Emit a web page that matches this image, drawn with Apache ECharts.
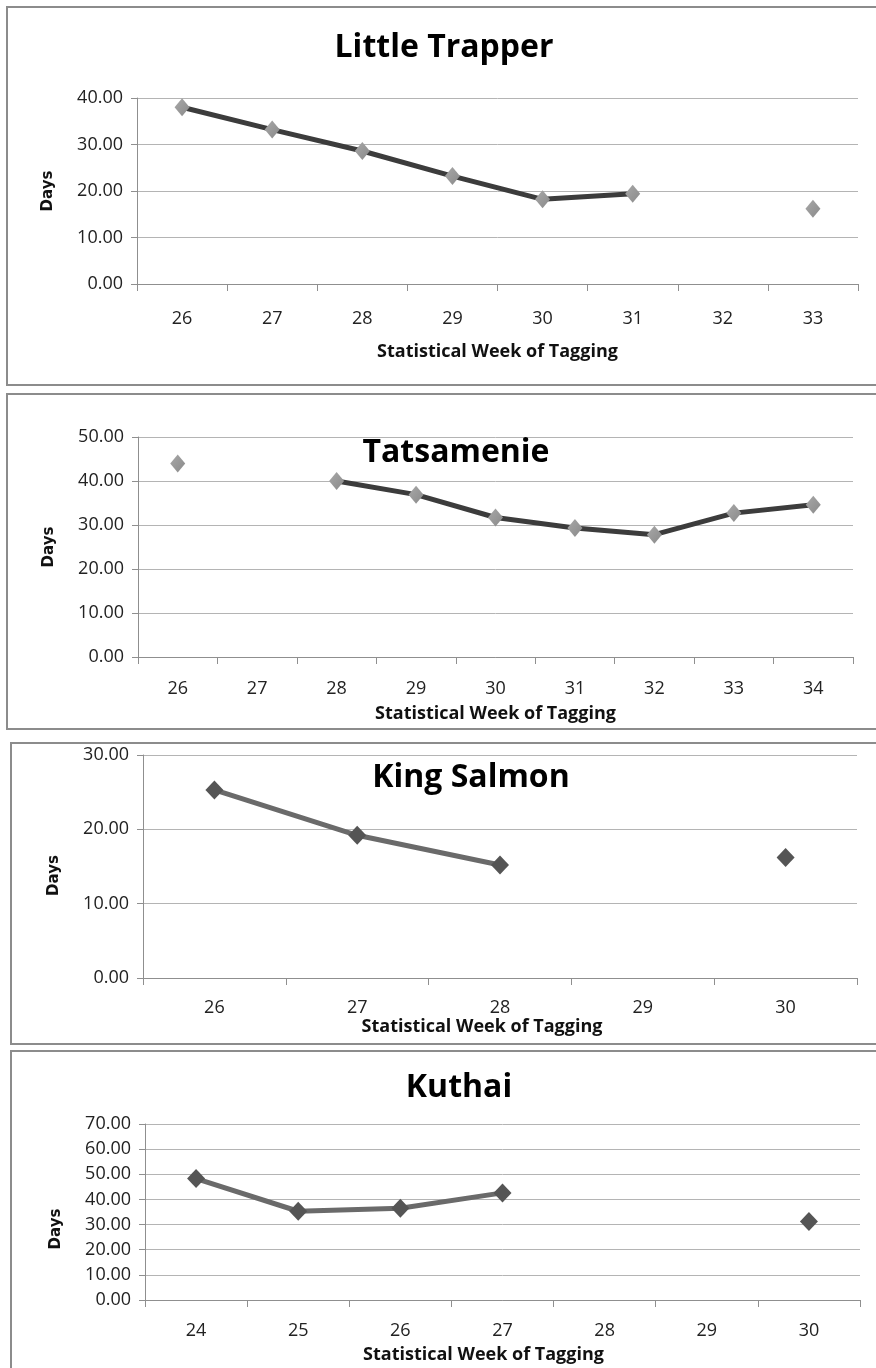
<!DOCTYPE html>
<html>
<head>
<meta charset="utf-8">
<title>Days by Statistical Week of Tagging</title>
<script src="https://cdn.jsdelivr.net/npm/echarts@6/dist/echarts.min.js"></script>
<style>
  html, body { margin: 0; padding: 0; background: #fff; }
  #chart { width: 876px; height: 1368px; }
</style>
</head>
<body>
<div id="chart"></div>
<script>
// Little Trapper
const weeksLittleTrapper = ['26', '27', '28', '29', '30', '31', '32', '33'];
const daysLittleTrapper  = [38.0, 33.2, 28.6, 23.2, 18.2, 19.4, null, 16.2];

// Tatsamenie
const weeksTatsamenie = ['26', '27', '28', '29', '30', '31', '32', '33', '34'];
const daysTatsamenie  = [44.0, null, 40.0, 36.9, 31.7, 29.3, 27.8, 32.7, 34.6];

// King Salmon
const weeksKingSalmon = ['26', '27', '28', '29', '30'];
const daysKingSalmon  = [25.3, 19.2, 15.2, null, 16.2];

// Kuthai
const weeksKuthai = ['24', '25', '26', '27', '28', '29', '30'];
const daysKuthai  = [48.3, 35.3, 36.5, 42.6, null, null, 31.2];

const panelTitles = ['Little Trapper', 'Tatsamenie', 'King Salmon', 'Kuthai'];
const yMax = [40, 50, 30, 70];
const xAxisTitle = 'Statistical Week of Tagging';
const yAxisTitle = 'Days';

const FONT = '"Open Sans", "Liberation Sans", sans-serif';

// panel frames and plot rectangles (px)
const panels = [
  { frame: [7, 7, 900, 378],   grid: { left: 137, top: 98,   width: 721, height: 186 }, xGap: 59, xLabelMargin: 26, namePadX: 0,  namePadY: 0,  title: [444, 48] },
  { frame: [7, 394, 900, 335], grid: { left: 138, top: 437,  width: 715, height: 220 }, xGap: 48, xLabelMargin: 23, namePadX: 0,  namePadY: 0,  title: [456, 453] },
  { frame: [11, 743, 900, 301], grid: { left: 143, top: 755,  width: 714, height: 223 }, xGap: 39, xLabelMargin: 21, namePadX: 36, namePadY: 18, title: [471, 778] },
  { frame: [11, 1051, 900, 400], grid: { left: 145, top: 1124, width: 715, height: 176 }, xGap: 46, xLabelMargin: 22, namePadX: 38, namePadY: 34, title: [459, 1088] }
];

const categories = [weeksLittleTrapper, weeksTatsamenie, weeksKingSalmon, weeksKuthai];
const values = [daysLittleTrapper, daysTatsamenie, daysKingSalmon, daysKuthai];

const lightMarker = () => new echarts.graphic.LinearGradient(0, 0, 1, 1, [
  { offset: 0, color: '#a8a8a8' }, { offset: 1, color: '#8a8a8a' }
]);

const lineStyles = [
  { line: '#3c3c3c', marker: lightMarker(), size: [15, 18] },
  { line: '#3c3c3c', marker: lightMarker(), size: [15, 18] },
  { line: '#6a6a6a', marker: '#555555', size: [18, 19] },
  { line: '#6a6a6a', marker: '#555555', size: [18, 19] }
];

const grids = [], xAxes = [], yAxes = [], series = [], graphics = [];

panels.forEach((p, i) => {
  graphics.push({
    type: 'rect',
    shape: { x: p.frame[0], y: p.frame[1], width: p.frame[2], height: p.frame[3] },
    style: { fill: 'none', stroke: '#8c8c8c', lineWidth: 2 },
    z: 0
  });
  graphics.push({
    type: 'text',
    x: p.title[0], y: p.title[1],
    style: {
      text: panelTitles[i],
      font: 'bold 32px ' + FONT,
      fill: '#000',
      textAlign: 'center',
      textVerticalAlign: 'middle'
    },
    z: 100
  });

  grids.push(p.grid);

  xAxes.push({
    type: 'category',
    gridIndex: i,
    data: categories[i],
    boundaryGap: true,
    name: xAxisTitle,
    nameLocation: 'middle',
    nameGap: p.xGap,
    nameTextStyle: {
      fontFamily: FONT, fontWeight: 'bold', fontSize: 18, color: '#111',
      padding: [0, p.namePadX, 0, 0]
    },
    axisLine: { lineStyle: { color: '#8f8f8f', width: 1 } },
    axisTick: { show: true, length: 7, interval: 0, lineStyle: { color: '#8f8f8f' } },
    axisLabel: { fontFamily: FONT, fontSize: 18, color: '#222', margin: p.xLabelMargin, interval: 0 },
    splitLine: { show: false }
  });

  yAxes.push({
    type: 'value',
    gridIndex: i,
    min: 0,
    max: yMax[i],
    interval: 10,
    name: yAxisTitle,
    nameLocation: 'middle',
    nameRotate: 90,
    nameGap: 81,
    nameTextStyle: {
      fontFamily: '"DejaVu Sans", sans-serif', fontWeight: 'bold', fontSize: 15, color: '#111',
      padding: [0, p.namePadY, 0, 0]
    },
    axisLine: { show: true, lineStyle: { color: '#8f8f8f', width: 1 } },
    axisTick: { show: true, length: 6, lineStyle: { color: '#8f8f8f' } },
    axisLabel: {
      fontFamily: FONT, fontSize: 18, color: '#222', margin: 14,
      formatter: v => v.toFixed(2)
    },
    splitLine: { show: true, lineStyle: { color: '#b4b4b4', width: 1 } }
  });

  series.push({
    type: 'line',
    name: panelTitles[i],
    xAxisIndex: i,
    yAxisIndex: i,
    data: values[i],
    connectNulls: false,
    symbol: 'diamond',
    symbolSize: lineStyles[i].size,
    lineStyle: { color: lineStyles[i].line, width: 5 },
    itemStyle: { color: lineStyles[i].marker, borderWidth: 0 },
    z: 3,
    animation: false
  });
});

const chart = echarts.init(document.getElementById('chart'), null, { renderer: 'canvas' });
chart.setOption({
  backgroundColor: '#ffffff',
  animation: false,
  grid: grids,
  xAxis: xAxes,
  yAxis: yAxes,
  series: series,
  graphic: { elements: graphics }
});
</script>
</body>
</html>
